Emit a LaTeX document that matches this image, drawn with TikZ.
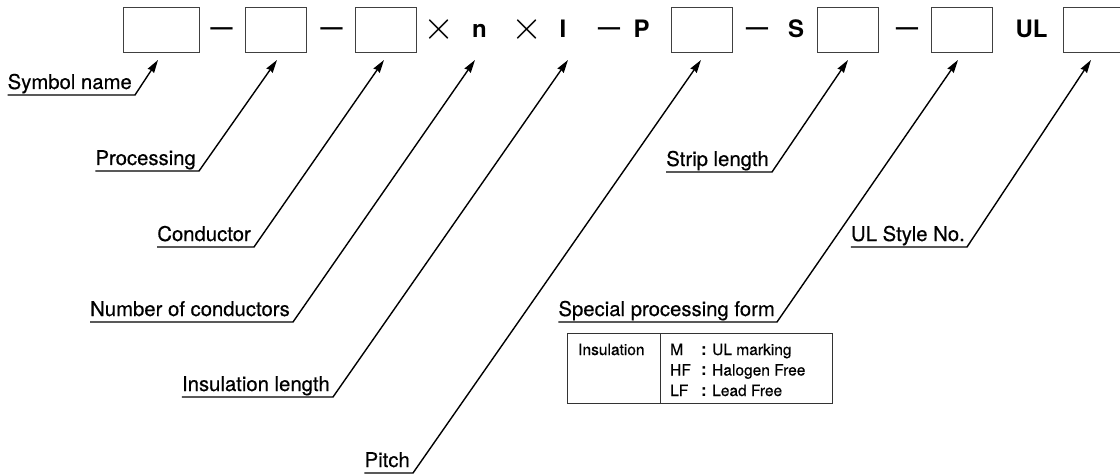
\documentclass[tikz,border=0pt]{standalone}
\usepackage{fontspec}
\setmainfont{TeX Gyre Heros}
\newfontfamily\medfont[FakeBold=0.45]{TeX Gyre Heros}
\usetikzlibrary{arrows.meta}
\begin{document}
\begin{tikzpicture}[x=1pt,y=-1pt,
  fbox/.style={draw=black!75, line width=0.9pt, minimum width=61pt, minimum height=45pt, inner sep=0pt},
  sym/.style={font=\fontsize{24}{24}\selectfont\bfseries, inner sep=0pt, anchor=base},
  dsh/.style={font=\fontsize{22}{22}\selectfont\bfseries, inner sep=0pt, anchor=base},
  tms/.style={inner sep=0pt, anchor=center},
  lbl/.style={font=\fontsize{20.3}{24}\selectfont\medfont, inner sep=0pt, anchor=base east},
  lead/.style={line width=1.4pt, -{Stealth[length=13pt,width=7.5pt,inset=1pt]}},
  tabtxt/.style={font=\fontsize{15.5}{18}\selectfont\medfont, inner sep=0pt, anchor=base west},
  tabcol/.style={font=\fontsize{17}{18}\selectfont\bfseries, inner sep=0pt, anchor=base west}
]
\useasboundingbox (0,0) rectangle (1120,476);

% top row boxes
\node[fbox, minimum width=76pt] (b1) at (161,29.5) {};
\node[fbox] (b2) at (276,29.5) {};
\node[fbox] (b3) at (386,29.5) {};
\node[fbox] (b4) at (702,29.5) {};
\node[fbox] (b5) at (847.5,29.5) {};
\node[fbox] (b6) at (961.5,29.5) {};
\node[fbox] (b7) at (1093.5,29.5) {};

% top row symbols
\node[dsh] (d1) at (221.5,35) {—};
\node[dsh] (d2) at (331.5,35) {—};
\node[tms] (x1) at (439,30) {\scalebox{4}{$\times$}};
\node[sym] (sn) at (479.5,38) {n};
\node[tms] (x2) at (527.5,30) {\scalebox{4}{$\times$}};
\node[sym] (sI) at (563,38) {I};
\node[dsh] (d3) at (609,35) {—};
\node[sym] (sP) at (641.5,38) {P};
\node[dsh] (d4) at (757,35) {—};
\node[sym] (sS) at (796,38) {S};
\node[dsh] (d5) at (907,35) {—};
\node[sym] (sU) at (1031.5,38) {UL};

% arrow tips
\coordinate (t1) at (158,60);
\coordinate (t2) at (277,60);
\coordinate (t3) at (384,60);
\coordinate (t4) at (475,60);
\coordinate (t5) at (568,60);
\coordinate (t6) at (701,60);
\coordinate (t7) at (848,60);
\coordinate (t8) at (958,60);
\coordinate (t9) at (1091,60);

% corners
\coordinate (c1) at (135,95);
\coordinate (c2) at (199,171);
\coordinate (c3) at (254,247);
\coordinate (c4) at (293,322);
\coordinate (c5) at (333,397);
\coordinate (c6) at (413,473);
\coordinate (c7) at (772,172);
\coordinate (c8) at (777,322);
\coordinate (c9) at (967,247);

% labels
\node[lbl] (l1) at (132,89) {Symbol name};
\node[lbl] (l2) at (196,165) {Processing};
\node[lbl] (l3) at (251,241) {Conductor};
\node[lbl] (l4) at (290,316) {Number of conductors};
\node[lbl] (l5) at (330,391) {Insulation length};
\node[lbl] (l6) at (410,467) {Pitch};
\node[lbl] (l7) at (769,166) {Strip length};
\node[lbl] (l8) at (775,316) {Special processing form};
\node[lbl] (l9) at (965,241) {UL Style No.};

% leaders
\draw[lead] (l1.base west |- c1) -- (c1) -- (t1);
\draw[lead] (l2.base west |- c2) -- (c2) -- (t2);
\draw[lead] (l3.base west |- c3) -- (c3) -- (t3);
\draw[lead] (l4.base west |- c4) -- (c4) -- (t4);
\draw[lead] (l5.base west |- c5) -- (c5) -- (t5);
\draw[lead] (l6.base west |- c6) -- (c6) -- (t6);
\draw[lead] (l7.base west |- c7) -- (c7) -- (t7);
\draw[lead] (l8.base west |- c8) -- (c8) -- (t8);
\draw[lead] (l9.base west |- c9) -- (c9) -- (t9);

% table
\node[draw=black!80, line width=0.9pt, minimum width=265pt, minimum height=70pt, inner sep=0pt, anchor=north west] (tab) at (567,333) {};
\draw[black!80, line width=0.9pt] ([xshift=93pt]tab.north west) -- ([xshift=93pt]tab.south west);
\node[tabtxt] (ins) at (578,355) {Insulation};
\node[tabtxt] (kM) at (670,355) {M};
\node[tabtxt] (kHF) at (670,375.5) {HF};
\node[tabtxt] (kLF) at (670,396) {LF};
\node[tabcol] (q1) at (701,355) {:};
\node[tabcol] (q2) at (701,375.5) {:};
\node[tabcol] (q3) at (701,396) {:};
\node[tabtxt] (vM) at (712,355) {UL marking};
\node[tabtxt] (vHF) at (712,375.5) {Halogen Free};
\node[tabtxt] (vLF) at (712,396) {Lead Free};
\end{tikzpicture}
\end{document}
